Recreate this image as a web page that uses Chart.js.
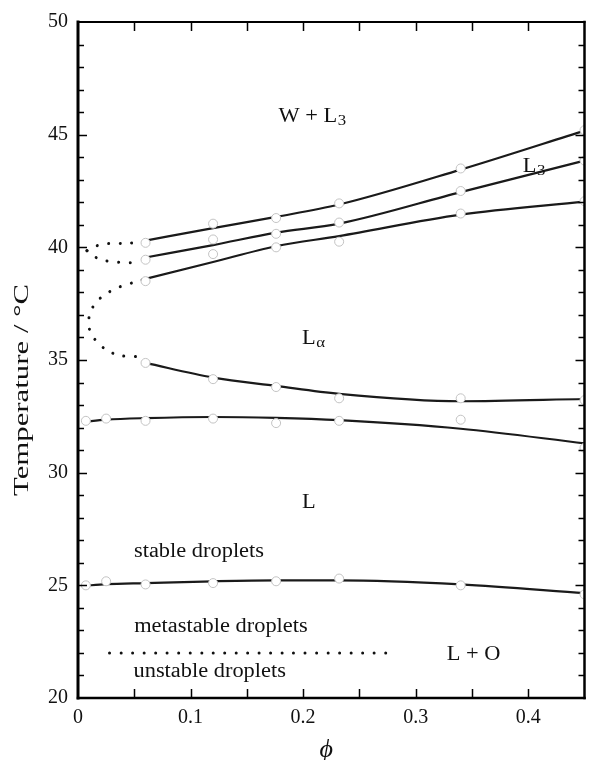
<!DOCTYPE html>
<html><head><meta charset="utf-8">
<script src="https://cdn.jsdelivr.net/npm/chart.js@4.4.1/dist/chart.umd.min.js"></script>
<style>html,body{margin:0;padding:0;background:#fff;}canvas{display:block;}</style>
</head><body>
<canvas id="c" width="590" height="760"></canvas>
<script>
// ---------- data ----------
const xTickLabels = [0, 0.1, 0.2, 0.3, 0.4];
const yTickLabels = [20, 25, 30, 35, 40, 45, 50];

// L3 region boundaries (phi values of measured points)
const phiMain = [0.06, 0.12, 0.176, 0.232, 0.34, 0.45];
const w3LineT = [40.3, 40.85, 41.35, 41.9, 43.45, 45.18];
const w3PtsT  = [40.2, 41.05, 41.3, 41.95, 43.5, 45.2];
const l3LineM = [39.55, 40.1, 40.65, 41.05, 42.45, 43.85];
const l3PtsM  = [39.45, 40.35, 40.6, 41.1, 42.5, 43.85];
const l3LineB = [38.6, 39.35, 40.05, 40.5, 41.45, 42.03];
const l3PtsB  = [38.5, 39.7, 40.0, 40.25, 41.5, 42.05];
// L_alpha lower boundary
const laLine  = [34.87, 34.22, 33.85, 33.5, 33.17, 33.27];
const laPts   = [34.87, 34.15, 33.8, 33.3, 33.3, 33.22];
// L / L_alpha boundary
const phiLow   = [0.005, 0.025, 0.06, 0.12, 0.176, 0.232, 0.34, 0.45];
const lLine    = [32.25, 32.35, 32.42, 32.47, 32.43, 32.33, 31.95, 31.3];
const phiLowPt = [0.007, 0.025, 0.06, 0.12, 0.176, 0.232, 0.34, 0.45];
const lPts     = [32.3, 32.4, 32.3, 32.4, 32.2, 32.3, 32.35, 31.1];
// stable / metastable droplets boundary
const dropLine = [24.98, 25.05, 25.1, 25.18, 25.22, 25.22, 25.04, 24.65];
const dropPts  = [25.0, 25.18, 25.04, 25.1, 25.18, 25.3, 25.0, 24.6];
// dotted (extrapolated) boundaries
const dotAx = [0.008, 0.02, 0.035, 0.055];
const dotAy = [39.85, 40.12, 40.17, 40.2];
const dotBx = [0.008, 0.018, 0.03, 0.045, 0.055];
const dotBy = [39.85, 39.5, 39.37, 39.32, 39.33];
const dotCx = [0.057, 0.044, 0.034, 0.024, 0.016, 0.011, 0.0095, 0.012, 0.02, 0.031, 0.045, 0.057];
const dotCy = [38.55, 38.36, 38.18, 37.9, 37.55, 37.1, 36.6, 36.15, 35.65, 35.3, 35.15, 35.18];
const dotDx = [0.028, 0.275];
const dotDy = [22.0, 22.0];

// phase labels: text (with _ for subscript), phi, temperature (baseline)
const labelText = ['W + L_3', 'L_3', 'L_α', 'L', 'stable droplets', 'metastable droplets', 'unstable droplets', 'L + O'];
const labelPhi  = [0.208, 0.405, 0.209, 0.205, 0.1075, 0.127, 0.117, 0.3515];
const labelT    = [45.54, 43.36, 35.69, 28.45, 26.24, 22.92, 20.93, 21.68];

const xTitle = 'ϕ';
const yTitle = 'Temperature / °C';

// ---------- build ----------
const SERIF = '"Liberation Serif", "Times New Roman", "DejaVu Serif", serif';
const xy = (xs, ys) => xs.map((x, i) => ({x, y: ys[i]}));
const lineDs = (xs, ys) => ({data: xy(xs, ys), borderColor: '#1a1a1a', borderWidth: 2.2, pointRadius: 0,
  cubicInterpolationMode: 'monotone', fill: false, order: 2});
const dotDs = (xs, ys) => ({data: xy(xs, ys), borderColor: '#111', borderWidth: 3, borderDash: [0.01, 11.5],
  borderCapStyle: 'round', pointRadius: 0, tension: 0.4, fill: false, order: 2});
const ptDs = (xs, ys) => ({data: xy(xs, ys), showLine: false, pointRadius: 4.5, pointBackgroundColor: '#fff',
  pointBorderColor: '#c4c4c4', pointBorderWidth: 1, pointHoverRadius: 4.5, order: 0});

const datasets = [
  lineDs(phiMain, w3LineT), lineDs(phiMain, l3LineM), lineDs(phiMain, l3LineB), lineDs(phiMain, laLine),
  lineDs(phiLow, lLine), lineDs(phiLow, dropLine),
  dotDs(dotAx, dotAy), dotDs(dotBx, dotBy), dotDs(dotCx, dotCy), dotDs(dotDx, dotDy),
  ptDs(phiMain, w3PtsT), ptDs(phiMain, l3PtsM), ptDs(phiMain, l3PtsB), ptDs(phiMain, laPts),
  ptDs(phiLowPt, lPts), ptDs(phiLowPt, dropPts)
];

function drawRich(ctx, str, cx, by, size, sx) {
  const parts = str.split('_');
  const subSize = Math.round(size * 0.75);
  ctx.font = `${size}px ${SERIF}`;
  const w0 = ctx.measureText(parts[0]).width;
  let w1 = 0;
  if (parts[1]) { ctx.font = `${subSize}px ${SERIF}`; w1 = ctx.measureText(parts[1]).width; }
  const total = w0 + w1;
  ctx.save();
  ctx.translate(cx, by);
  ctx.scale(sx, 1);
  ctx.textAlign = 'left';
  ctx.textBaseline = 'alphabetic';
  ctx.fillStyle = '#111';
  ctx.font = `${size}px ${SERIF}`;
  ctx.fillText(parts[0], -total / 2, 0);
  if (parts[1]) { ctx.font = `${subSize}px ${SERIF}`; ctx.fillText(parts[1], -total / 2 + w0 + 0.5, 3); }
  ctx.restore();
}

const framePlugin = {
  id: 'frame',
  beforeDraw(chart) {
    const ctx = chart.ctx;
    ctx.save(); ctx.fillStyle = '#fff'; ctx.fillRect(0, 0, chart.width, chart.height); ctx.restore();
  },
  afterDraw(chart) {
    const ctx = chart.ctx, a = chart.chartArea, xs = chart.scales.x, ys = chart.scales.y;
    ctx.save();
    ctx.strokeStyle = '#000';
    // ticks (inward, all four sides)
    ctx.lineWidth = 1.5;
    for (let v = ys.min + 1; v < ys.max; v += 1) {
      const p = Math.round(ys.getPixelForValue(v)) + 0.5;
      const len = (Math.round(v) % 5 === 0) ? 9 : 6;
      ctx.beginPath();
      ctx.moveTo(a.left, p); ctx.lineTo(a.left + len, p);
      ctx.moveTo(a.right, p); ctx.lineTo(a.right - len, p);
      ctx.stroke();
    }
    for (let k = 1; k * 0.05 < xs.max - 1e-9; k++) {
      const p = Math.round(xs.getPixelForValue(k * 0.05)) + 0.5;
      ctx.beginPath();
      ctx.moveTo(p, a.bottom); ctx.lineTo(p, a.bottom - 9);
      ctx.moveTo(p, a.top); ctx.lineTo(p, a.top + 9);
      ctx.stroke();
    }
    // frame
    ctx.lineCap = 'square';
    ctx.lineWidth = 3;
    ctx.beginPath(); ctx.moveTo(a.left, a.top); ctx.lineTo(a.left, a.bottom); ctx.stroke();
    ctx.lineWidth = 2.5;
    ctx.beginPath(); ctx.moveTo(a.left, a.bottom); ctx.lineTo(a.right, a.bottom); ctx.stroke();
    ctx.beginPath(); ctx.moveTo(a.right, a.top); ctx.lineTo(a.right, a.bottom); ctx.stroke();
    ctx.lineWidth = 2;
    ctx.beginPath(); ctx.moveTo(a.left, a.top); ctx.lineTo(a.right, a.top); ctx.stroke();
    // phase labels
    labelText.forEach((t, i) => {
      drawRich(ctx, t, xs.getPixelForValue(labelPhi[i]), ys.getPixelForValue(labelT[i]), 20, 1.12);
    });
    // axis titles
    ctx.fillStyle = '#111';
    ctx.textAlign = 'center'; ctx.textBaseline = 'middle';
    ctx.font = `italic 26px ${SERIF}`;
    ctx.fillText(xTitle, (a.left + a.right) / 2 - 5, 750);
    ctx.save();
    ctx.translate(22, (a.top + a.bottom) / 2 + 30);
    ctx.rotate(-Math.PI / 2);
    ctx.font = `21px ${SERIF}`;
    const w = ctx.measureText(yTitle).width;
    ctx.scale(212 / w, 1);
    ctx.fillText(yTitle, 0, 0);
    ctx.restore();
    ctx.restore();
  }
};

new Chart(document.getElementById('c'), {
  type: 'line',
  data: {datasets},
  options: {
    responsive: false, animation: false, devicePixelRatio: 1,
    layout: {padding: {top: 20, right: 2, left: 0, bottom: 0}},
    plugins: {legend: {display: false}, tooltip: {enabled: false}},
    events: [],
    scales: {
      x: {type: 'linear', min: 0, max: 0.45,
        afterBuildTicks: s => { s.ticks = xTickLabels.map(v => ({value: v})); },
        afterFit: s => { s.height = 62; },
        grid: {display: false, drawTicks: false}, border: {display: false},
        ticks: {padding: 8, color: '#111', font: {family: SERIF, size: 20}, callback: v => String(v)}},
      y: {type: 'linear', min: 20, max: 50,
        afterBuildTicks: s => { s.ticks = yTickLabels.map(v => ({value: v})); },
        afterFit: s => { s.width = 78; },
        grid: {display: false, drawTicks: false}, border: {display: false},
        ticks: {padding: 10, color: '#111', font: {family: SERIF, size: 20}, callback: v => String(v)}}
    }
  },
  plugins: [framePlugin]
});
</script>
</body></html>
